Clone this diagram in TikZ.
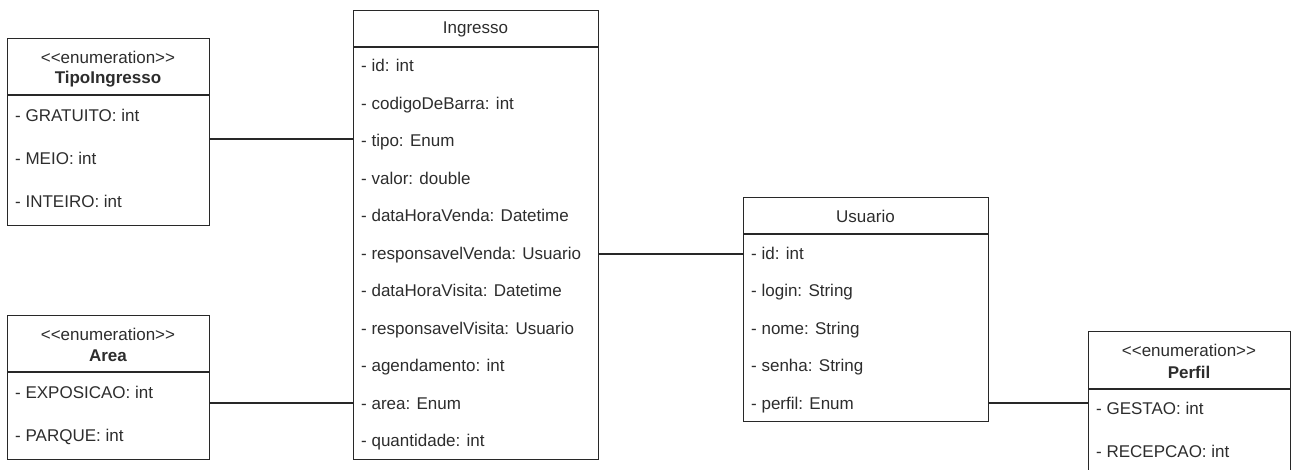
\documentclass[tikz,border=0pt]{standalone}
\usepackage{fontspec}
\setmainfont{Liberation Sans}
\definecolor{linec}{RGB}{40,40,40}
\definecolor{textc}{RGB}{45,45,45}
\newcommand{\stereo}{<{}<enumeration>{}>}
\tikzset{
  classbox/.style={draw=linec, line width=1.3pt, fill=white, inner sep=0pt, anchor=north west},
  sepline/.style={draw=linec, line width=1.3pt},
  attr/.style={anchor=mid west, inner sep=0pt, text=textc, font=\fontsize{17}{20}\selectfont},
  ctitle/.style={inner sep=0pt, text=textc, font=\fontsize{17}{20}\selectfont},
  etitle/.style={inner sep=0pt, text=textc, font=\fontsize{17}{20}\selectfont\bfseries},
  assoc/.style={draw=linec, line width=1.3pt}
}
\begin{document}
\begin{tikzpicture}[x=1pt, y=-1pt]
  \clip (0,0) rectangle (1291,470);
  \fill[white] (0,0) rectangle (1291,470);

  % ---------- TipoIngresso (enumeration) ----------
  \node[classbox, minimum width=202pt, minimum height=187pt] (ti) at (7,38) {};
  \draw[sepline] (7,95) -- (209,95);
  \node[ctitle] (tiSt) at (108,57) {\stereo};
  \node[etitle] (tiName) at (108,79) {TipoIngresso};
  \node[attr] (ti1) at (15,119) {- GRATUITO: int};
  \node[attr] (ti2) at (15,162) {- MEIO: int};
  \node[attr] (ti3) at (15,205) {- INTEIRO: int};

  % ---------- Area (enumeration) ----------
  \node[classbox, minimum width=202pt, minimum height=144pt] (ar) at (7,315) {};
  \draw[sepline] (7,372) -- (209,372);
  \node[ctitle] (arSt) at (108,334) {\stereo};
  \node[etitle] (arName) at (108,356) {Area};
  \node[attr] (ar1) at (15,396) {- EXPOSICAO: int};
  \node[attr] (ar2) at (15,439) {- PARQUE: int};

  % ---------- Ingresso ----------
  \node[classbox, minimum width=245pt, minimum height=449pt] (ing) at (353,10) {};
  \draw[sepline] (353,47) -- (598,47);
  \node[ctitle] (ingName) at (475.5,29) {Ingresso};
  \node[attr] (ing1)  at (361,69)    {- id: int};
  \node[attr] (ing2)  at (361,106.5) {- codigoDeBarra: int};
  \node[attr] (ing3)  at (361,144)   {- tipo: Enum};
  \node[attr] (ing4)  at (361,181.5) {- valor: double};
  \node[attr] (ing5)  at (361,219)   {- dataHoraVenda: Datetime};
  \node[attr] (ing6)  at (361,256.5) {- responsavelVenda: Usuario};
  \node[attr] (ing7)  at (361,294)   {- dataHoraVisita: Datetime};
  \node[attr] (ing8)  at (361,331.5) {- responsavelVisita: Usuario};
  \node[attr] (ing9)  at (361,369)   {- agendamento: int};
  \node[attr] (ing10) at (361,406.5) {- area: Enum};
  \node[attr] (ing11) at (361,444)   {- quantidade: int};

  % ---------- Usuario ----------
  \node[classbox, minimum width=245pt, minimum height=224pt] (us) at (743,197) {};
  \draw[sepline] (743,234) -- (988,234);
  \node[ctitle] (usName) at (865.5,216) {Usuario};
  \node[attr] (us1) at (751,256.5) {- id: int};
  \node[attr] (us2) at (751,294)   {- login: String};
  \node[attr] (us3) at (751,331.5) {- nome: String};
  \node[attr] (us4) at (751,369)   {- senha: String};
  \node[attr] (us5) at (751,406.5) {- perfil: Enum};

  % ---------- Perfil (enumeration) ----------
  \node[classbox, minimum width=202pt, minimum height=160pt] (pf) at (1088,331) {};
  \draw[sepline] (1088,389) -- (1290,389);
  \node[ctitle] (pfSt) at (1189,350) {\stereo};
  \node[etitle] (pfName) at (1189,372) {Perfil};
  \node[attr] (pf1) at (1096,412) {- GESTAO: int};
  \node[attr] (pf2) at (1096,455) {- RECEPCAO: int};

  % ---------- associations ----------
  \coordinate (yTipo) at (0,139);
  \coordinate (yArea) at (0,403);
  \coordinate (yVenda) at (0,254);
  \coordinate (yPerfil) at (0,403);
  \draw[assoc] (ti.east |- yTipo)   -- (ing.west |- yTipo);
  \draw[assoc] (ar.east |- yArea)   -- (ing.west |- yArea);
  \draw[assoc] (ing.east |- yVenda) -- (us.west |- yVenda);
  \draw[assoc] (us.east |- yPerfil) -- (pf.west |- yPerfil);
\end{tikzpicture}
\end{document}
